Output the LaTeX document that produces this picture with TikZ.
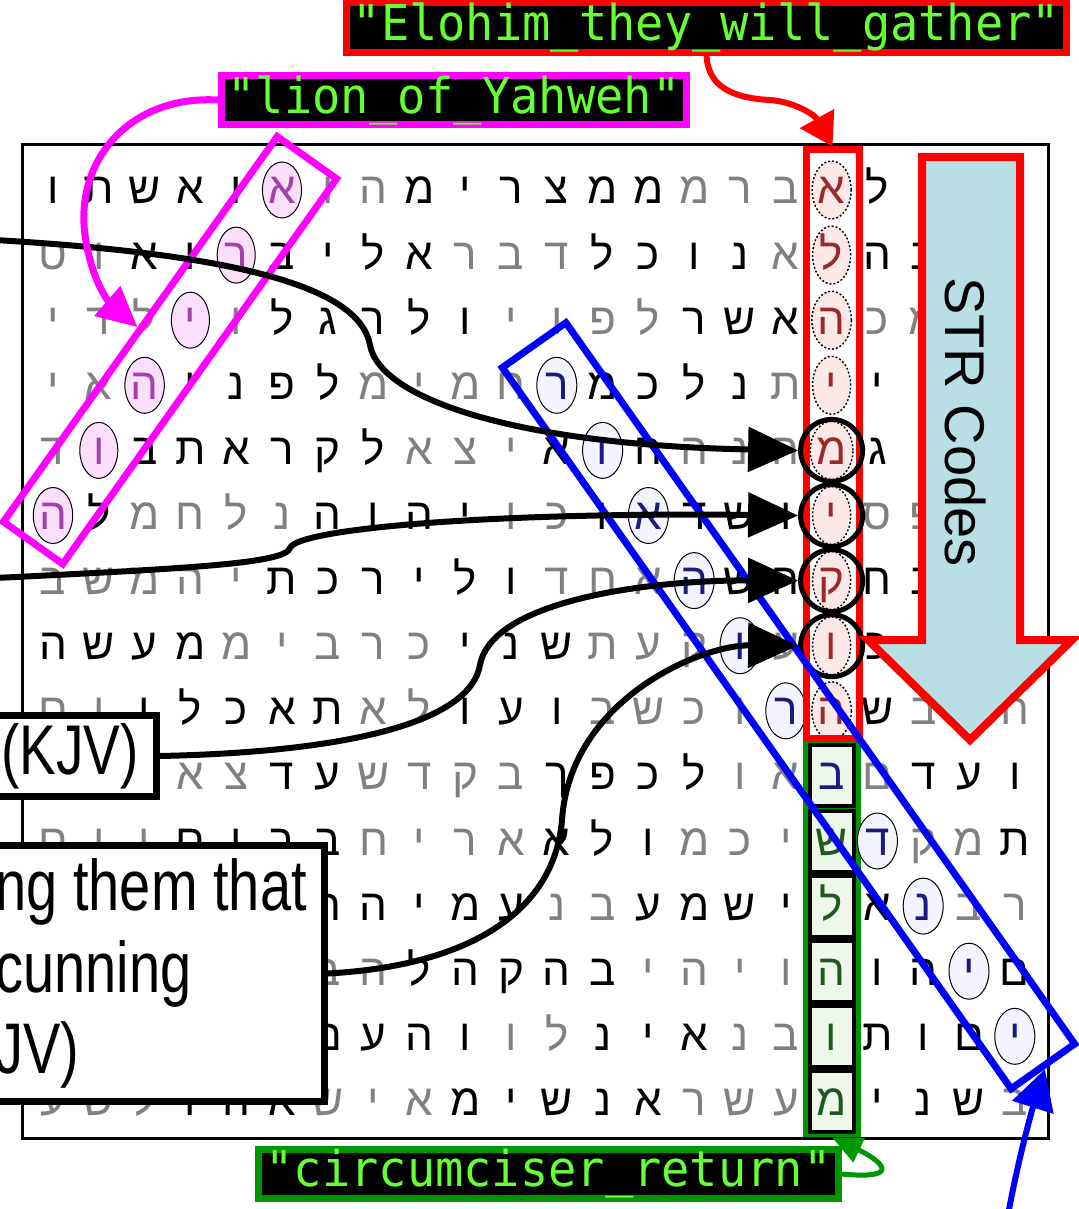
\documentclass[tikz,border=0pt]{standalone}
\usepackage{fontspec}
\usepackage{graphicx}
\setmainfont{Liberation Sans}
\setmonofont{DejaVu Sans Mono}
\newfontfamily\hebfont[Script=Hebrew]{Liberation Sans}
\usetikzlibrary{arrows.meta, shapes.geometric}

\definecolor{hebgrey}{RGB}{128,128,128}
\definecolor{lionmag}{RGB}{255,0,255}
\definecolor{lionfill}{RGB}{250,222,250}
\definecolor{lionink}{RGB}{160,64,168}
\definecolor{elofill}{RGB}{253,232,232}
\definecolor{eloink}{RGB}{154,42,42}
\definecolor{roefill}{RGB}{244,244,255}
\definecolor{roeink}{RGB}{26,26,128}
\definecolor{mohelgreen}{RGB}{0,150,0}
\definecolor{mohelfill}{RGB}{238,248,234}
\definecolor{mohelink}{RGB}{30,90,30}
\definecolor{tagtext}{RGB}{102,255,51}
\definecolor{strfill}{RGB}{184,223,227}

\tikzset{
  heb/.style={font=\hebfont\fontsize{22pt}{22pt}\selectfont, inner sep=0pt,
    text height=14pt, text depth=0pt},
  hebB/.style={heb},
  hebG/.style={heb, text=hebgrey},
  hebM/.style={heb, ellipse, draw, line width=0.5pt, fill=lionfill, text=lionink,
    minimum width=19pt, minimum height=28pt},
  hebR/.style={heb, ellipse, draw, line width=0.7pt, dash pattern=on 1pt off 1pt,
    fill=elofill, text=eloink, minimum width=19pt, minimum height=29pt},
  hebU/.style={heb, ellipse, draw, line width=0.5pt, fill=roefill, text=roeink,
    minimum width=20pt, minimum height=28pt},
  hebN/.style={heb, draw, line width=2pt, fill=mohelfill, text=mohelink,
    minimum width=22pt, minimum height=30.5pt},
  hebV/.style={hebN, text=roeink},
  ring/.style={circle, draw, line width=2.5pt, minimum size=31pt, inner sep=0pt},
  wire/.style={line width=3pt, -{Triangle[length=25pt,width=22pt]}},
  tag/.style={fill=black, line width=3.5pt, inner sep=0pt, text=tagtext,
    font=\ttfamily\fontsize{23.5pt}{24pt}\selectfont},
  notebox/.style={draw, line width=3.5pt, fill=white, inner sep=0pt}
}

\begin{document}
\begin{tikzpicture}[x=0.5pt, y=-0.5pt]
  \useasboundingbox (0,0) rectangle (1078,1209);
  \fill[white] (0,0) rectangle (1078,1209);
  \draw[line width=1.5pt] (22,145) rectangle (1048,1138);
  \node[fill=mohelgreen, minimum width=29pt, minimum height=198.5pt, inner sep=0pt]
    (mohelCol) at (832,938.5) {};

  % x/H: cell hidden under a note box
  \foreach \row [count=\r from 0] in {
    {ו/B,ת/B,ש/B,א/B,ו/B,א/M,ו/G,ה/G,מ/B,י/B,ר/B,צ/B,מ/B,מ/B,מ/G,ר/G,ב/G,א/R,ל/B,ו/B,ו/B,ו/G},
    {ט/G,ו/G,א/B,ו/B,ר/M,ב/B,י/B,ל/B,א/B,ר/G,ב/G,ד/G,ל/B,כ/B,ו/B,נ/B,א/G,ל/R,ה/B,ב/B,ו/B,ו/B},
    {י/G,ד/G,ל/G,י/M,ו/G,ל/B,ג/B,ר/B,ל/B,ו/B,י/G,ו/G,פ/G,ל/G,ר/B,ש/B,א/B,ה/R,כ/G,מ/G,ו/G,ו/G},
    {י/G,א/G,ה/M,י/B,נ/B,פ/B,ל/B,מ/G,י/G,מ/G,ח/G,ר/U,מ/B,כ/B,ל/B,נ/B,ת/G,י/R,י/B,ו/B,ו/B,ו/G},
    {ד/G,ו/M,ב/B,ת/B,א/B,ר/B,ק/B,ל/B,א/G,צ/G,י/G,א/B,ו/U,ה/B,ה/G,נ/G,ה/G,מ/R,ג/B,ו/B,ו/B,ו/B},
    {ה/M,ל/B,מ/G,ח/G,ל/G,נ/G,ה/B,ו/B,ה/B,י/B,ו/G,כ/G,ו/B,א/U,ד/B,ש/B,ו/B,י/R,ס/G,פ/G,ו/G,ו/G},
    {ב/G,ש/G,מ/G,ה/G,י/G,ת/B,כ/B,ר/B,י/B,ל/B,ו/B,ד/G,ח/G,א/G,ה/U,ש/B,ה/B,ק/R,ח/B,ב/B,ו/B,ו/G},
    {ה/B,ש/B,ע/B,מ/B,מ/G,י/G,ב/G,ר/G,כ/G,י/B,נ/B,ש/B,ת/G,ע/G,ק/G,ו/U,ע/G,ו/R,כ/B,ו/B,ו/B,ו/G},
    {ם/G,ו/G,ו/B,ל/B,כ/B,א/B,ת/B,א/G,ל/G,ו/B,ע/B,ו/B,ב/G,ש/G,כ/G,ו/G,ר/U,ה/R,ש/B,ב/G,ה/G,ח/G},
    {x/H,x/H,x/H,א/G,צ/G,ד/B,ע/B,ש/G,ד/G,ק/G,ב/G,ך/B,פ/B,כ/B,ל/B,ו/G,א/G,ב/V,ם/G,ד/B,ע/B,ו/B},
    {ם/G,ו/G,ו/G,ם/B,ו/B,ר/B,ב/B,ח/G,י/G,ר/G,א/G,א/B,ל/B,ו/B,מ/G,כ/G,י/G,ש/N,ד/U,ק/G,מ/G,ת/B},
    {x/H,x/H,x/H,x/H,x/H,x/H,ה/B,ה/B,י/B,מ/B,ע/B,נ/G,ב/G,ע/B,מ/B,ש/B,י/B,ל/N,א/B,נ/U,ב/G,ר/G},
    {x/H,x/H,x/H,x/H,x/H,x/H,ב/G,ה/G,ל/B,ה/B,ק/B,ה/B,ב/B,י/G,ה/G,י/G,ו/G,ה/N,ו/B,ה/B,י/U,ם/B},
    {x/H,x/H,x/H,x/H,x/H,x/H,ם/B,ע/B,ה/B,ו/B,ו/G,ל/G,נ/B,י/B,א/B,נ/G,ב/G,ו/N,ת/B,ו/B,ם/B,י/U},
    {ע/G,ש/G,ל/G,ו/B,ה/B,א/B,ש/G,י/G,א/G,מ/B,י/B,ש/B,נ/B,א/B,ר/G,ש/G,ע/G,מ/N,י/B,נ/B,ש/B,ב/G}}
  {
    \foreach \l/\s [count=\k from 0] in \row {
      \if\s H\else
        \node[heb\s] (c-\r-\k) at ({53+45.8*\k},{190+65.1*\r}) {\l};
      \fi
    }
  }

  \node[draw=red, line width=3.5pt, minimum width=26.5pt, minimum height=294pt, inner sep=0pt]
    (elohimCol) at (832.5,444) {};
  \foreach \r in {4,...,7}
    \node[ring] (hit\r) at (c-\r-17) {};

  \node[draw=lionmag, line width=3.5pt, rotate=54.6, minimum width=236.3pt,
    minimum height=36.4pt, inner sep=0pt] (lionBox) at (170,350.25) {};
  \node[draw=blue, line width=3.5pt, rotate=-54.8, minimum width=441.3pt,
    minimum height=38.9pt, inner sep=0pt] (roeBox) at (788.5,705.75) {};

  \draw[red, line width=4pt, fill=strfill] (922,157) -- (1020,157) -- (1020,640)
    -- (1072,640) -- (970,740) -- (868,640) -- (922,640) -- cycle;
  \node[rotate=-90, font=\fontsize{28pt}{28pt}\selectfont] (strLabel) at (966,422) {STR Codes};

  \node[notebox, minimum width=86.5pt, minimum height=40.5pt,
    font=\fontsize{27.5pt}{32pt}\selectfont] (kjv) at (70,756) {\scalebox{1}[1.28]{(KJV)}};
  \node[notebox, minimum width=170.5pt, minimum height=128pt, inner xsep=6pt,
    font=\fontsize{28pt}{32pt}\selectfont] (ruse) at (154,973.5)
    {\scalebox{1}[1.28]{\parbox{158.5pt}{\raggedright ng them that\\cunning\\JV)}}};

  \coordinate (leftA) at (-5,240);
  \coordinate (leftB) at (-5,578);
  \draw[wire] (leftA) .. controls (250,255) and (360,290) .. (370,345)
    .. controls (380,400) and (520,445) .. (hit4.west);
  \draw[wire] (leftB) .. controls (200,568) and (285,563) .. (290,548)
    .. controls (298,528) and (500,512) .. (hit5.west);
  \draw[wire] (kjv.east) .. controls (350,752) and (470,722) .. (480,665)
    .. controls (492,600) and (650,580) .. (hit6.west);
  \draw[wire] (ruse.east) .. controls (480,965) and (555,905) .. (562,820)
    .. controls (570,700) and (700,645) .. (hit7.west);

  \node[tag, draw=red, minimum width=360pt, minimum height=19pt] (tagElohim)
    at (706.5,27.5) {\scalebox{1}[1.05]{"Elohim\_they\_will\_gather"}};
  \node[tag, draw=lionmag, minimum width=232.5pt, minimum height=18.5pt] (tagLion)
    at (454,100) {\scalebox{1}[1.05]{"lion\_of\_Yahweh"}};
  \node[tag, draw=mohelgreen, minimum width=290pt, minimum height=20.5pt] (tagMohel)
    at (548.5,1174) {\scalebox{1}[1.05]{"circumciser\_return"}};

  \draw[red, line width=3pt, -{Triangle[length=16pt,width=19pt]}] (tagElohim.south)
    .. controls (708,85) and (730,98) .. (770,100)
    .. controls (795,102) and (815,115) .. (elohimCol.north);
  \draw[lionmag, line width=3.5pt, -{Triangle[length=20pt,width=19pt]}] (tagLion.west)
    .. controls (130,95) and (75,160) .. (85,235)
    .. controls (92,285) and (112,305) .. (lionBox.north);
  \draw[mohelgreen, line width=2.5pt, -{Triangle[length=15pt,width=13pt]}] (tagMohel.east)
    .. controls (905,1180) and (880,1160) .. (mohelCol.south);
  \coordinate (roeFoot) at (1008,1215);
  \draw[blue, line width=3pt, -{Triangle[length=20pt,width=21pt]}] (roeFoot)
    .. controls (1018,1160) and (1032,1110) .. (roeBox.east);
\end{tikzpicture}
\end{document}
